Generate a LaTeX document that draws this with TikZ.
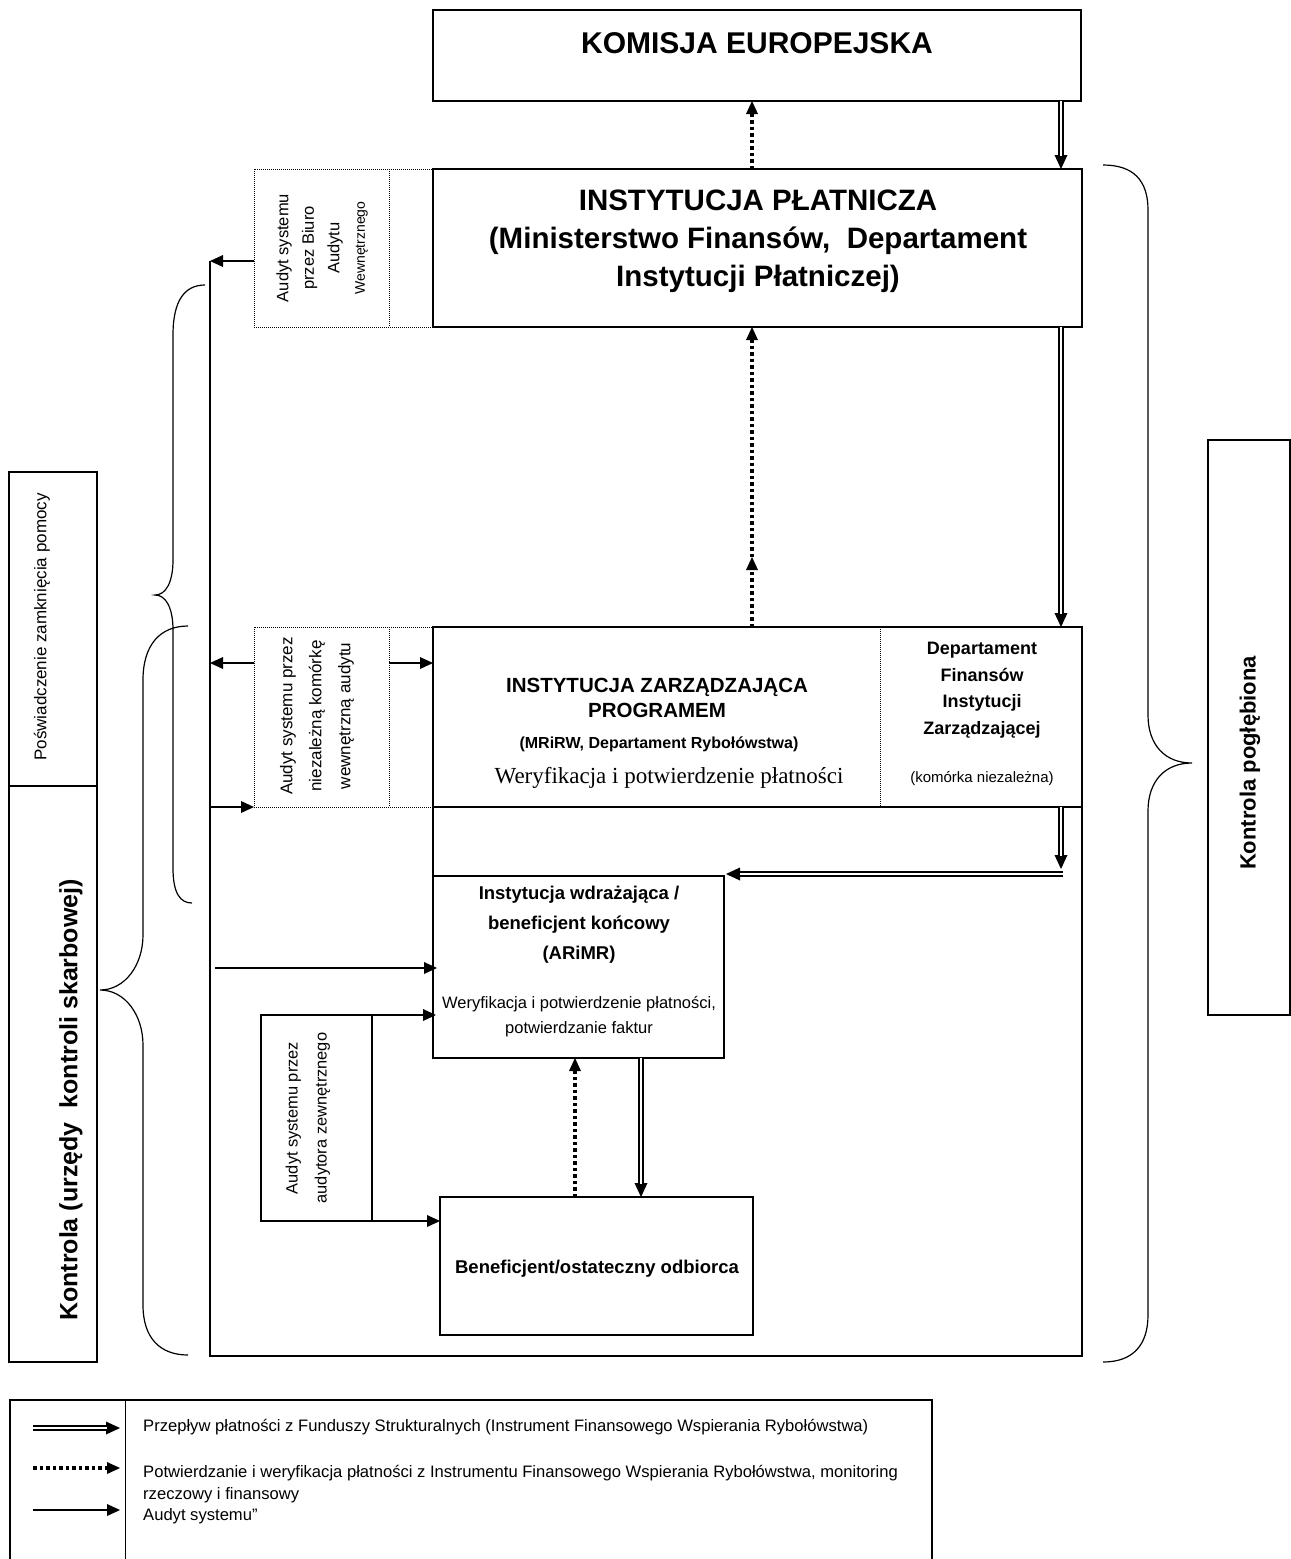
\documentclass[tikz,border=0pt]{standalone}
\usepackage{fontspec}
\setmainfont{Liberation Sans}
\newfontfamily\timesf{Liberation Serif}
\usetikzlibrary{arrows.meta,calc}
\newcommand\fsz[2]{\fontsize{#1}{#2}\selectfont}
\newcommand\payarrow[2]{\draw[paytip] #1 -- #2; \draw[payshaft] #1 -- #2;}
\begin{document}
\begin{tikzpicture}[x=1pt,y=-1pt,
  box/.style={draw, line width=1.8pt, inner sep=0pt, outer sep=0pt, anchor=north west},
  dotbox/.style={draw, densely dotted, line width=1pt, inner sep=0pt, outer sep=0pt, anchor=north west},
  thinbox/.style={draw, line width=1.3pt, inner sep=0pt, outer sep=0pt, anchor=north west},
  txt/.style={inner sep=0pt, align=center},
  audit/.style={line width=1.8pt, -{Triangle[length=13pt,width=12pt,line width=0pt]}},
  paytip/.style={line width=1.4pt, -{Triangle[length=14pt,width=13pt,line width=0pt]}},
  payshaft/.style={double, double distance=2.6pt, line width=1.3pt, shorten >=13.5pt},
  verif/.style={line width=3.2pt, dash pattern=on 3.5pt off 3pt, -{Triangle[length=13pt,width=12pt,line width=0pt]}},
  brace/.style={line width=1.2pt}
]
\fill[white] (0,0) rectangle (1291,1559);
\useasboundingbox (0,0) rectangle (1291,1559);

% ---------- boxes ----------
\node[box, minimum width=648pt, minimum height=91pt] (kom) at (433,10) {};
\node[txt, font=\bfseries\fsz{30}{36}] (komt) at (757,43) {KOMISJA EUROPEJSKA};

\node[dotbox, minimum width=179pt, minimum height=158pt] (aud1) at (254,169) {};
\draw[densely dotted, line width=1pt] (389,169) -- (389,327);
\node[txt, rotate=90, font=\fsz{16.5}{25.5}] (aud1t) at (322,248) {Audyt systemu\\przez Biuro\\Audytu\\{\fsz{14}{23}Wewnętrznego}};

\node[box, minimum width=649pt, minimum height=158pt] (ip) at (433,169) {};
\node[txt, font=\bfseries\fsz{29.5}{38}] (ipt) at (758,241) {INSTYTUCJA PŁATNICZA\\(Ministerstwo Finansów, \ Departament\\Instytucji Płatniczej)};

\node[dotbox, minimum width=179pt, minimum height=180pt] (aud2) at (254,627) {};
\draw[densely dotted, line width=1pt] (389,627) -- (389,807);
\node[txt, rotate=90, font=\fsz{17}{29}] (aud2t) at (317,716) {Audyt systemu przez\\niezależną komórkę\\wewnętrzną audytu};

\node[box, minimum width=649pt, minimum height=180pt] (iz) at (433,627) {};
\draw[densely dotted, line width=1pt] (880,627) -- (880,807);
\node[txt, font=\bfseries\fsz{20.5}{25}] (izt1) at (657,698) {INSTYTUCJA ZARZĄDZAJĄCA\\PROGRAMEM};
\node[txt, font=\bfseries\fsz{16}{19}] (izt2) at (659,744) {(MRiRW, Departament Rybołówstwa)};
\node[txt, font=\timesf\fsz{23}{28}] (izt3) at (669,778) {Weryfikacja i potwierdzenie płatności};
\node[txt, font=\bfseries\fsz{18}{26.5}] (dept) at (982,690) {Departament\\Finansów\\Instytucji\\Zarządzającej};
\node[txt, font=\fsz{15}{18}] (deptb) at (982,779) {(komórka niezależna)};

\node[box, minimum width=291pt, minimum height=182pt] (iw) at (433,876) {};
\node[txt, font=\bfseries\fsz{18.5}{30}] (iwt1) at (579,925) {Instytucja wdrażająca /\\beneficjent końcowy\\(ARiMR)};
\node[txt, font=\fsz{16.5}{25}] (iwt2) at (579,1017) {Weryfikacja i potwierdzenie płatności,\\potwierdzanie faktur};

\node[box, minimum width=313pt, minimum height=138pt] (ben) at (440,1197) {};
\node[txt, font=\bfseries\fsz{18.5}{22}] (bent) at (597,1269) {Beneficjent/ostateczny odbiorca};

\node[thinbox, minimum width=111pt, minimum height=206pt] (ext) at (261,1015) {};
\node[txt, rotate=90, font=\fsz{16.4}{29}] (extt) at (308,1118) {Audyt systemu przez\\audytora zewnętrznego};

\node[thinbox, minimum width=88pt, minimum height=890pt] (lbox) at (9,472) {};
\draw[line width=1.1pt] (9,786) -- (97,786);
\node[txt, rotate=90, font=\fsz{17}{20}] (lbt1) at (42,627) {Poświadczenie zamknięcia pomocy};
\node[txt, rotate=90, font=\bfseries\fsz{25}{30}] (lbt2) at (71,1100) {Kontrola (urzędy \ kontroli skarbowej)};

\node[thinbox, minimum width=82pt, minimum height=575pt] (rbox) at (1208,440) {};
\node[txt, rotate=90, font=\bfseries\fsz{22}{26}] (rbt) at (1250,763) {Kontrola pogłębiona};

% ---------- frame ----------
\coordinate (fl) at (210,261);
\coordinate (fb) at (210,1356);
\draw[line width=1.8pt] (fl) -- (fb) -- (fb -| iz.south east) -- (iz.south east);
\draw[line width=1.8pt] (iz.south west) -- (iw.north west);

% ---------- audit arrows ----------
\coordinate (m1) at (210,663);
\coordinate (dv2) at (389,663);
\coordinate (m2) at (210,807);
\coordinate (m3) at (215,968);
\draw[audit] (aud1.west |- fl) -- (fl);
\draw[audit] (aud2.west |- m1) -- (m1);
\draw[audit] (dv2) -- (iz.west |- dv2);
\draw[audit] (m2) -- (aud2.south west);
\draw[audit] (m3) -- ($(iw.west |- m3)+(4,0)$);
\draw[audit] (ext.north east) -- ($(iw.west |- ext.north east)+(3,0)$);
\draw[audit] (ext.south east) -- (ben.west |- ext.south east);

% ---------- verification arrows ----------
\coordinate (vx) at (752,0);
\coordinate (vmid) at (752,557);
\coordinate (vx2) at (575,0);
\draw[verif] (ip.north -| vx) -- (kom.south -| vx);
\draw[verif] (iz.north -| vx) -- (vmid);
\draw[verif] (vmid) -- (ip.south -| vx);
\draw[verif] (ben.north -| vx2) -- (iw.south -| vx2);

% ---------- payment arrows ----------
\coordinate (px) at (1061,0);
\coordinate (pc) at (1061,869);
\coordinate (pd) at (1063,874);
\coordinate (pe) at (726,874);
\coordinate (qx) at (641,0);
\payarrow{(kom.south -| px)}{(ip.north -| px)}
\payarrow{(ip.south -| px)}{(iz.north -| px)}
\payarrow{(iz.south -| px)}{(pc)}
\payarrow{(pd)}{(pe)}
\payarrow{(iw.south -| qx)}{(ben.north -| qx)}

% ---------- braces ----------
\draw[brace] (205,285) .. controls (185,285) and (173,300) .. (173,335) -- (173,560) .. controls (173,582) and (166,595) .. (155,595) .. controls (166,595) and (173,608) .. (173,630) -- (173,868) .. controls (173,893) and (180,903) .. (192,903);
\draw[brace] (188,626) .. controls (160,626) and (143,645) .. (143,680) -- (143,935) .. controls (143,965) and (125,990) .. (100,990) .. controls (125,990) and (143,1015) .. (143,1045) -- (143,1305) .. controls (143,1338) and (160,1355) .. (188,1355);
\draw[brace] (1103,165) .. controls (1133,165) and (1148,180) .. (1148,210) -- (1148,715) .. controls (1148,745) and (1165,763) .. (1192,763) .. controls (1165,763) and (1148,781) .. (1148,811) -- (1148,1315) .. controls (1148,1345) and (1133,1362) .. (1103,1362);

% ---------- legend ----------
\draw[line width=1.4pt] (10,1562) -- (10,1400) -- (932,1400) -- (932,1562);
\draw[line width=1pt] (125,1400) -- (125,1562);
\coordinate (l1a) at (33,1428); \coordinate (l1b) at (120,1428);
\coordinate (l2a) at (33,1468); \coordinate (l2b) at (120,1468);
\coordinate (l3a) at (33,1510); \coordinate (l3b) at (120,1510);
\payarrow{(l1a)}{(l1b)}
\draw[verif] (l2a) -- (l2b);
\draw[audit] (l3a) -- (l3b);
\node[anchor=west, inner sep=0pt, font=\fsz{16.6}{21}] (leg1) at (143,1427) {Przepływ płatności z Funduszy Strukturalnych (Instrument Finansowego Wspierania Rybołówstwa)};
\node[anchor=west, inner sep=0pt, align=left, font=\fsz{16.6}{21.5}] (leg2) at (143,1495) {Potwierdzanie i weryfikacja płatności z Instrumentu Finansowego Wspierania Rybołówstwa, monitoring\\rzeczowy i finansowy\\Audyt systemu”};
\end{tikzpicture}
\end{document}
